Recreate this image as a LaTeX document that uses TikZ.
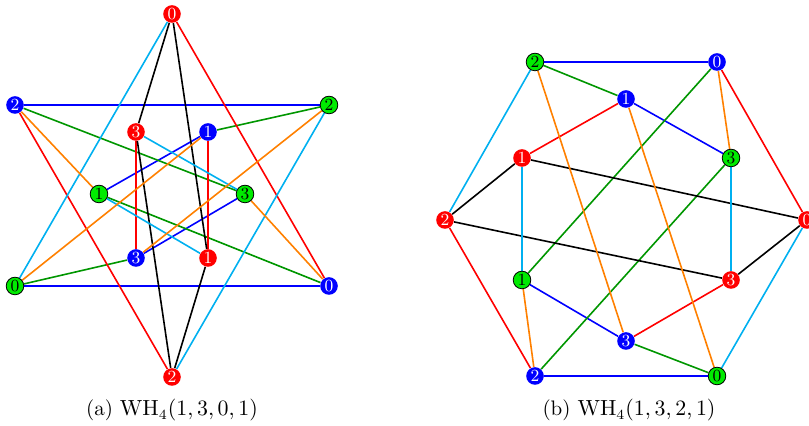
\documentclass[tikz,border=0pt]{standalone}
\usetikzlibrary{backgrounds}
\definecolor{cR}{RGB}{255,0,0}
\definecolor{cB}{RGB}{0,0,255}
\definecolor{cG}{RGB}{0,235,0}
\definecolor{eG}{RGB}{0,150,0}
\definecolor{eC}{RGB}{0,176,240}
\definecolor{eO}{RGB}{255,128,0}
\tikzset{
  vtx/.style={circle,inner sep=0pt,minimum size=8.8pt,font=\fontsize{8.5}{8.5}\selectfont},
  vr/.style={vtx,fill=cR,text=white},
  vb/.style={vtx,fill=cB,text=white},
  vg/.style={vtx,fill=cG,draw=black,line width=0.4pt,text=black},
  edge/.style={line width=0.8pt},
  eb/.style={edge,draw=cB},
  eg/.style={edge,draw=eG},
  er/.style={edge,draw=cR},
  ek/.style={edge,draw=black},
  ec/.style={edge,draw=eC},
  eo/.style={edge,draw=eO},
  captext/.style={anchor=base,font=\fontsize{10.5}{12}\selectfont}
}
\begin{document}
\begin{tikzpicture}[x=0.5pt,y=-0.5pt]
\useasboundingbox (0,0) rectangle (809,426);
\clip (0,0) rectangle (809,426);
% left graph nodes
\node[vr] (aR0) at (172,14) {0};
\node[vb] (aB2) at (15,105) {2};
\node[vg] (aG2) at (329,105) {2};
\node[vr] (aR3) at (136,132) {3};
\node[vb] (aB1) at (208,132) {1};
\node[vg] (aG1) at (99,194) {1};
\node[vg] (aG3) at (245,194) {3};
\node[vb] (aB3) at (136,258) {3};
\node[vr] (aR1) at (208,258) {1};
\node[vg] (aG0) at (15,286) {0};
\node[vb] (aB0) at (329,286) {0};
\node[vr] (aR2) at (172,377) {2};
% right graph nodes
\node[vg] (bG2) at (535,62) {2};
\node[vb] (bB0) at (717,62) {0};
\node[vb] (bB1) at (626,99) {1};
\node[vr] (bR1) at (522,158) {1};
\node[vg] (bG3) at (731,158) {3};
\node[vr] (bR2) at (445,220) {2};
\node[vr] (bR0) at (807,220) {0};
\node[vg] (bG1) at (522,280) {1};
\node[vr] (bR3) at (731,280) {3};
\node[vb] (bB3) at (626,341) {3};
\node[vb] (bB2) at (535,376) {2};
\node[vg] (bG0) at (717,376) {0};
% captions
\node[captext] (capa) at (172,416) {(a) $\mathrm{WH}_4(1,3,0,1)$};
\node[captext] (capb) at (629,416) {(b) $\mathrm{WH}_4(1,3,2,1)$};
\begin{pgfonlayer}{background}
% left edges
\draw[eb] (aB2) -- (aG2); \draw[eb] (aG0) -- (aB0); \draw[eb] (aB1) -- (aG1); \draw[eb] (aG3) -- (aB3);
\draw[eg] (aB2) -- (aG3); \draw[eg] (aG2) -- (aB1); \draw[eg] (aG1) -- (aB0); \draw[eg] (aG0) -- (aB3);
\draw[er] (aR0) -- (aB0); \draw[er] (aR2) -- (aB2); \draw[er] (aR3) -- (aB3); \draw[er] (aB1) -- (aR1);
\draw[ek] (aR0) -- (aR3); \draw[ek] (aR0) -- (aR1); \draw[ek] (aR3) -- (aR2); \draw[ek] (aR1) -- (aR2);
\draw[ec] (aR0) -- (aG0); \draw[ec] (aG2) -- (aR2); \draw[ec] (aR3) -- (aG3); \draw[ec] (aG1) -- (aR1);
\draw[eo] (aB2) -- (aG1); \draw[eo] (aG2) -- (aB3); \draw[eo] (aB1) -- (aG0); \draw[eo] (aG3) -- (aB0);
% right edges
\draw[eb] (bG2) -- (bB0); \draw[eb] (bB1) -- (bG3); \draw[eb] (bG1) -- (bB3); \draw[eb] (bB2) -- (bG0);
\draw[eg] (bG2) -- (bB1); \draw[eg] (bB0) -- (bG1); \draw[eg] (bG3) -- (bB2); \draw[eg] (bB3) -- (bG0);
\draw[er] (bB1) -- (bR1); \draw[er] (bB0) -- (bR0); \draw[er] (bR2) -- (bB2); \draw[er] (bB3) -- (bR3);
\draw[ek] (bR1) -- (bR2); \draw[ek] (bR1) -- (bR0); \draw[ek] (bR2) -- (bR3); \draw[ek] (bR3) -- (bR0);
\draw[ec] (bG2) -- (bR2); \draw[ec] (bR1) -- (bG1); \draw[ec] (bG3) -- (bR3); \draw[ec] (bR0) -- (bG0);
\draw[eo] (bG2) -- (bB3); \draw[eo] (bB1) -- (bG0); \draw[eo] (bB0) -- (bG3); \draw[eo] (bG1) -- (bB2);
\end{pgfonlayer}
\end{tikzpicture}
\end{document}
